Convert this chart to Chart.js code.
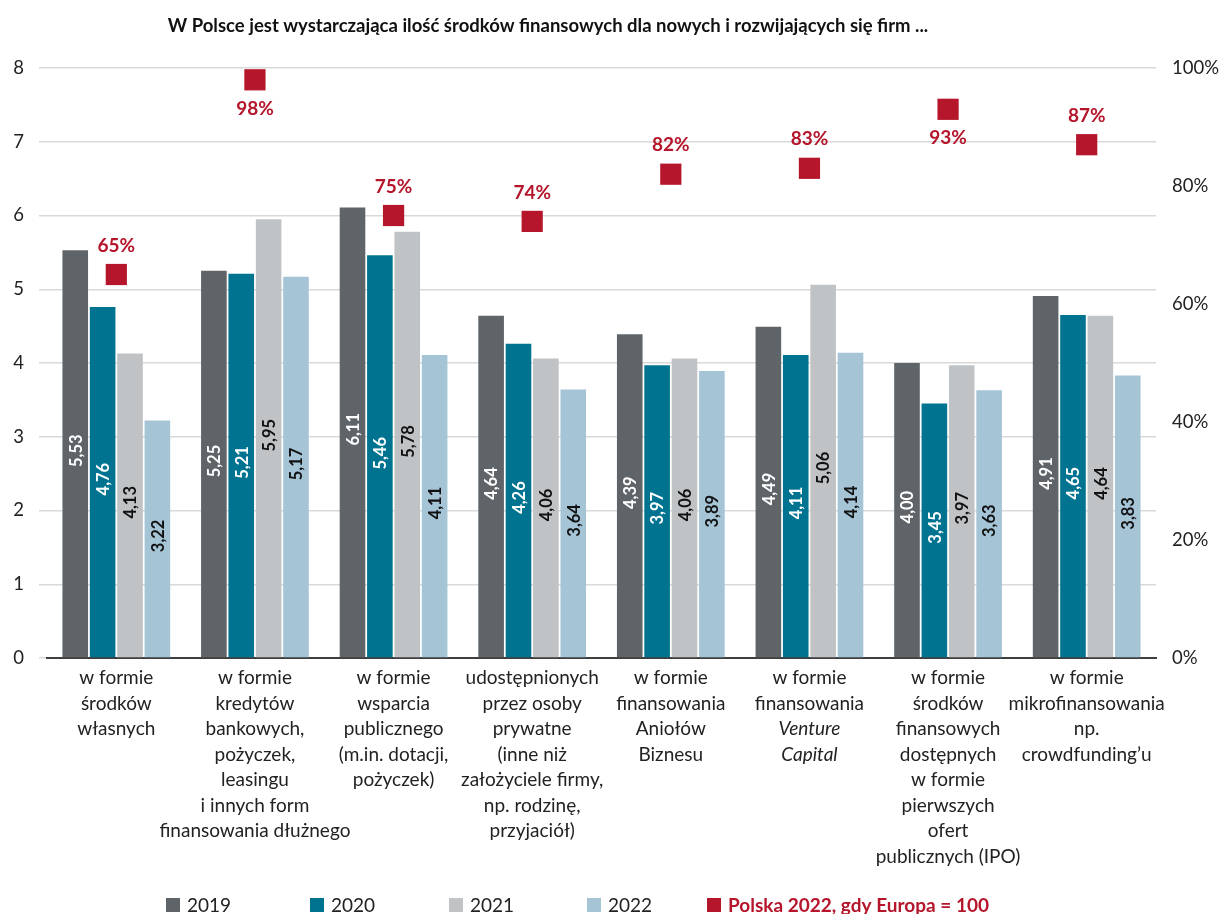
<!DOCTYPE html>
<html lang="pl">
<head>
<meta charset="utf-8">
<title>Środki finansowe dla firm</title>
<script src="https://cdn.jsdelivr.net/npm/chart.js@4.4.1/dist/chart.umd.min.js"></script>
<style>
    html, body { margin: 0; padding: 0; background: #ffffff; }
    #wykres { display: block; }
</style>
</head>
<body>
<canvas id="wykres" width="1223" height="914"></canvas>
<script>
const title = 'W Polsce jest wystarczająca ilość środków finansowych dla nowych i rozwijających się firm ...';

// Podpisy kategorii, każda linia osobno
const categories = [
    ['w formie', 'środków', 'własnych'],
    ['w formie', 'kredytów', 'bankowych,', 'pożyczek,', 'leasingu', 'i innych form', 'finansowania dłużnego'],
    ['w formie', 'wsparcia', 'publicznego', '(m.in. dotacji,', 'pożyczek)'],
    ['udostępnionych', 'przez osoby', 'prywatne', '(inne niż', 'założyciele firmy,', 'np. rodzinę,', 'przyjaciół)'],
    ['w formie', 'finansowania', 'Aniołów', 'Biznesu'],
    ['w formie', 'finansowania', 'Venture', 'Capital'],
    ['w formie', 'środków', 'finansowych', 'dostępnych', 'w formie', 'pierwszych', 'ofert', 'publicznych (IPO)'],
    ['w formie', 'mikrofinansowania', 'np.', 'crowdfunding\u2019u']
];
const italicLines = ['Venture', 'Capital'];

const values2019 = [5.53, 5.25, 6.11, 4.64, 4.39, 4.49, 4.00, 4.91];
const values2020 = [4.76, 5.21, 5.46, 4.26, 3.97, 4.11, 3.45, 4.65];
const values2021 = [4.13, 5.95, 5.78, 4.06, 4.06, 5.06, 3.97, 4.64];
const values2022 = [3.22, 5.17, 4.11, 3.64, 3.89, 4.14, 3.63, 3.83];
const polskaVsEuropa = [65, 98, 75, 74, 82, 83, 93, 87];

const leftTicks = [0, 1, 2, 3, 4, 5, 6, 7, 8];
const rightTicks = [0, 20, 40, 60, 80, 100];

const FONT = 'Lato, "Open Sans", sans-serif';
const RED = '#b5162b';

const barSeries = [
    { label: '2019', data: values2019, color: '#5e6468', text: '#ffffff' },
    { label: '2020', data: values2020, color: '#007391', text: '#ffffff' },
    { label: '2021', data: values2021, color: '#bfc3c6', text: '#111111' },
    { label: '2022', data: values2022, color: '#a5c4d6', text: '#111111' }
];
const redLabel = 'Polska 2022, gdy Europa = 100';

function fmt(v) {
    return v.toFixed(2).replace('.', ',');
}

// tytuł, podpisy osi X, wartości słupków, procenty i legenda
const annotations = {
    id: 'annotations',
    afterDatasetsDraw(chart) {
        const ctx = chart.ctx;
        const xScale = chart.scales.x;
        ctx.save();

        // wartości wewnątrz słupków, obrócone
        ctx.font = 'bold 16.5px ' + FONT;
        ctx.textAlign = 'center';
        ctx.textBaseline = 'middle';
        barSeries.forEach((s, di) => {
            const meta = chart.getDatasetMeta(di);
            meta.data.forEach((bar, i) => {
                const cy = (bar.y + bar.base) / 2 - 3;
                ctx.save();
                ctx.translate(bar.x + 1, cy);
                ctx.rotate(-Math.PI / 2);
                ctx.fillStyle = s.text;
                ctx.fillText(fmt(s.data[i]), 0, 0);
                ctx.restore();
            });
        });

        // procenty przy czerwonych kwadratach
        const redMeta = chart.getDatasetMeta(barSeries.length);
        ctx.font = 'bold 19px ' + FONT;
        ctx.fillStyle = RED;
        redMeta.data.forEach((pt, i) => {
            const v = polskaVsEuropa[i];
            const dy = v >= 90 ? 29 : -29;
            ctx.fillText(v + '%', pt.x, pt.y + dy);
        });

        // podpisy kategorii
        ctx.fillStyle = '#222222';
        categories.forEach((lines, i) => {
            const x = xScale.getPixelForValue(i);
            lines.forEach((line, j) => {
                const italic = italicLines.includes(line) ? 'italic ' : '';
                ctx.font = italic + '19px ' + FONT;
                ctx.fillText(line, x, 678 + j * 25.5);
            });
        });

        // tytuł
        ctx.font = 'bold 18.5px ' + FONT;
        ctx.fillStyle = '#111111';
        ctx.fillText(title, 548, 26);

        // legenda
        const items = barSeries.map(s => ({ label: s.label, color: s.color, textColor: '#222222', bold: false }));
        items.push({ label: redLabel, color: RED, textColor: RED, bold: true });
        const legendX = [166, 310, 449, 587, 707];
        const ly = 905;
        ctx.textAlign = 'left';
        items.forEach((it, k) => {
            const lx = legendX[k];
            ctx.fillStyle = it.color;
            ctx.fillRect(lx, ly - 7, 14, 14);
            ctx.font = (it.bold ? 'bold ' : '') + '19px ' + FONT;
            ctx.fillStyle = it.textColor;
            ctx.fillText(it.label, lx + 21, ly + 1);
        });

        ctx.restore();
    }
};

const datasets = barSeries.map(s => ({
    type: 'bar',
    label: s.label,
    data: s.data,
    backgroundColor: s.color,
    borderWidth: 0,
    yAxisID: 'y',
    order: 1,
    categoryPercentage: 0.79,
    barPercentage: 0.935
}));
datasets.push({
    type: 'line',
    label: redLabel,
    data: polskaVsEuropa,
    yAxisID: 'y2',
    showLine: false,
    pointStyle: 'rect',
    pointRadius: 15,
    pointHoverRadius: 15,
    pointBackgroundColor: RED,
    pointBorderWidth: 0,
    order: 0
});

new Chart(document.getElementById('wykres').getContext('2d'), {
    data: {
        labels: categories.map(c => c.join(' ')),
        datasets: datasets
    },
    options: {
        responsive: false,
        devicePixelRatio: 1,
        animation: false,
        layout: {
            padding: { top: 68, bottom: 256, left: 0, right: 0 }
        },
        plugins: {
            legend: { display: false },
            title: { display: false },
            tooltip: { enabled: false }
        },
        scales: {
            x: {
                offset: true,
                ticks: { display: false },
                grid: { display: false },
                border: { display: true, color: '#3f3f3f', width: 2 },
                afterFit: scale => { scale.height = 0; }
            },
            y: {
                position: 'left',
                min: leftTicks[0],
                max: leftTicks[leftTicks.length - 1],
                afterBuildTicks: scale => { scale.ticks = leftTicks.map(v => ({ value: v })); },
                ticks: {
                    font: { family: FONT, size: 18.5 },
                    color: '#222222',
                    padding: 15
                },
                grid: {
                    color: '#d9d9d9',
                    lineWidth: 1.5,
                    tickLength: 8
                },
                border: { display: false },
                afterFit: scale => { scale.width = 47; }
            },
            y2: {
                position: 'right',
                min: rightTicks[0],
                max: rightTicks[rightTicks.length - 1],
                afterBuildTicks: scale => { scale.ticks = rightTicks.map(v => ({ value: v })); },
                ticks: {
                    font: { family: FONT, size: 18.5 },
                    color: '#222222',
                    padding: 8,
                    callback: v => v + '%'
                },
                grid: { display: false },
                border: { display: false },
                afterFit: scale => { scale.width = 67; }
            }
        }
    },
    plugins: [annotations]
});
</script>
</body>
</html>
